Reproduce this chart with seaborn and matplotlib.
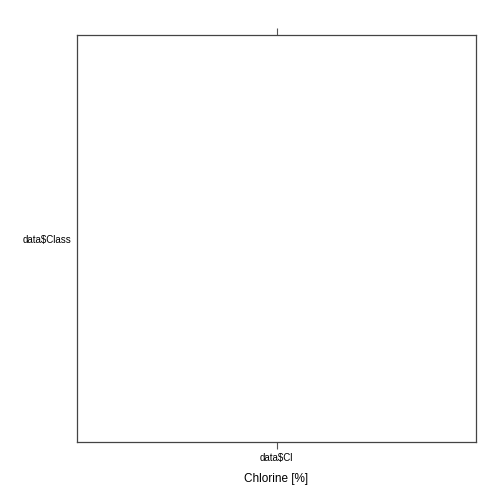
import matplotlib
matplotlib.use("Agg")
import matplotlib.pyplot as plt
import seaborn as sns
import pandas as pd

# Data: the reference panel is empty (no observations plotted)
x_tick_labels = ["data$Cl"]
y_tick_labels = ["data$Class"]
cl_values = []
class_values = []
x_title = "Chlorine [%]"

sns.set_theme(style="white")
plt.rcParams['font.family'] = ['Liberation Sans', 'DejaVu Sans']
plt.rcParams['text.color'] = 'black'
plt.rcParams['axes.labelcolor'] = 'black'
plt.rcParams['xtick.color'] = 'black'
plt.rcParams['ytick.color'] = 'black'

df = pd.DataFrame({"Cl": pd.Series(cl_values, dtype=float),
                   "Class": pd.Series(class_values, dtype=float)})

fig = plt.figure(figsize=(5, 5), dpi=100)
ax = fig.add_axes([0.154, 0.116, 0.798, 0.814])
sns.scatterplot(data=df, x="Cl", y="Class", ax=ax)

ax.set_xlim(0, 1)
ax.set_ylim(0, 1)
ax.set_xticks([0.5])
ax.set_xticklabels(x_tick_labels, fontsize=7)
ax.set_yticks([0.5])
ax.set_yticklabels(y_tick_labels, fontsize=7)
ax.tick_params(axis="x", which="both", direction="out", length=5, width=0.8,
               color="#555555", labelcolor="black", top=True, bottom=True,
               labeltop=False, pad=3)
ax.tick_params(axis="y", which="both", length=0, pad=4, labelcolor="black")
ax.set_xlabel(x_title, fontsize=8.5, labelpad=7, color="black")
ax.set_ylabel("")
for s in ax.spines.values():
    s.set_visible(True)
    s.set_color("#444444")
    s.set_linewidth(0.9)

fig.savefig("out.png", dpi=100, facecolor="white")
